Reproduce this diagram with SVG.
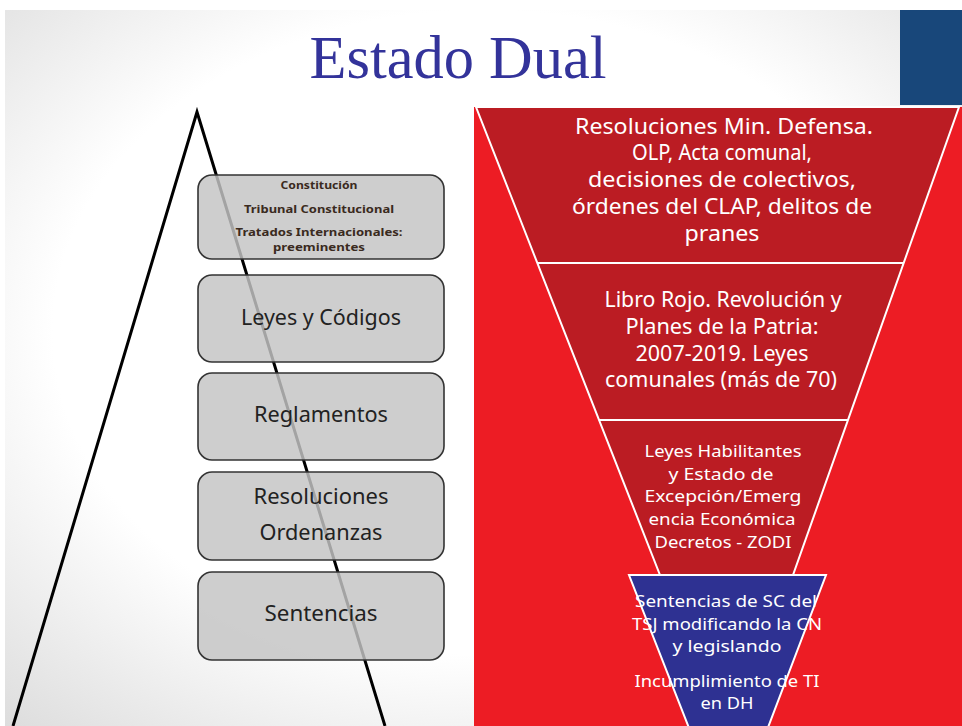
<svg xmlns="http://www.w3.org/2000/svg" width="962" height="726" viewBox="0 0 962 726">
<style>
.box{fill:#c4c4c4;fill-opacity:0.83;stroke:#333;stroke-width:1.6}
.bt{font-family:"Noto Sans","Open Sans",sans-serif;font-size:21px;fill:#222;text-anchor:middle}
.bs{font-family:"Noto Sans","Open Sans",sans-serif;font-size:11px;font-weight:bold;fill:#3a2a20;text-anchor:middle}
.wt{font-family:"Noto Sans","Open Sans",sans-serif;font-size:21px;fill:#fff;text-anchor:middle}
.ws{font-family:"Noto Sans","Open Sans",sans-serif;font-size:17px;fill:#fff;text-anchor:middle}
.sep{stroke:#fff;stroke-width:2;fill:none}
</style>
<defs>
<radialGradient id="bg" cx="0.5" cy="0.45" r="0.75">
<stop offset="0.6" stop-color="#ffffff"/>
<stop offset="1" stop-color="#dcdcdc"/>
</radialGradient>
</defs>
<rect width="962" height="726" fill="#fff"/>
<rect x="5" y="10" width="957" height="716" fill="url(#bg)"/>
<rect id="blue-corner" x="900" y="10" width="62" height="95" fill="#18477a"/>
<text id="title" x="458" y="78" font-family="Liberation Serif,serif" font-size="62" fill="#33339a" text-anchor="middle" textLength="297" lengthAdjust="spacingAndGlyphs">Estado Dual</text>

<g id="pyramid">
<polyline points="13,726 197,112 385,726" fill="none" stroke="#000" stroke-width="3" stroke-linejoin="miter"/>
</g>

<g id="box-constitucion">
<rect class="box" x="198" y="175" width="246" height="84" rx="14"/>
<text class="bs" x="319" y="189" textLength="77" lengthAdjust="spacingAndGlyphs">Constitución</text>
<text class="bs" x="319" y="213" textLength="150" lengthAdjust="spacingAndGlyphs">Tribunal Constitucional</text>
<text class="bs" x="319" y="236" textLength="167" lengthAdjust="spacingAndGlyphs">Tratados Internacionales:</text>
<text class="bs" x="319" y="251" textLength="92" lengthAdjust="spacingAndGlyphs">preeminentes</text>
</g>
<g id="box-leyes">
<rect class="box" x="198" y="275" width="246" height="87" rx="14"/>
<text class="bt" x="321" y="325" textLength="160" lengthAdjust="spacingAndGlyphs">Leyes y Códigos</text>
</g>
<g id="box-reglamentos">
<rect class="box" x="198" y="373" width="246" height="87" rx="14"/>
<text class="bt" x="321" y="422" textLength="134" lengthAdjust="spacingAndGlyphs">Reglamentos</text>
</g>
<g id="box-resoluciones">
<rect class="box" x="198" y="472" width="246" height="88" rx="14"/>
<text class="bt" x="321" y="504" textLength="135" lengthAdjust="spacingAndGlyphs">Resoluciones</text>
<text class="bt" x="321" y="540" textLength="123" lengthAdjust="spacingAndGlyphs">Ordenanzas</text>
</g>
<g id="box-sentencias">
<rect class="box" x="198" y="572" width="246" height="88" rx="14"/>
<text class="bt" x="321" y="621" textLength="113" lengthAdjust="spacingAndGlyphs">Sentencias</text>
</g>

<rect id="red-bg" x="474" y="107" width="488" height="619" fill="#ed1c24"/>

<g id="funnel">
<polygon points="476,107 959,107 793,575 660,575" fill="#bb1c23" stroke="#fff" stroke-width="2"/>
</g>
<g id="connectors">
<line class="sep" x1="537" y1="263" x2="904" y2="263"/>
<line class="sep" x1="599" y1="420" x2="848" y2="420"/>
</g>

<g id="sec-1">
<text class="wt" x="724" y="134" textLength="298" lengthAdjust="spacingAndGlyphs">Resoluciones Min. Defensa.</text>
<text class="wt" x="722" y="160" textLength="180" lengthAdjust="spacingAndGlyphs">OLP, Acta comunal,</text>
<text class="wt" x="722" y="187" textLength="268" lengthAdjust="spacingAndGlyphs">decisiones de colectivos,</text>
<text class="wt" x="722" y="214" textLength="300" lengthAdjust="spacingAndGlyphs">órdenes del CLAP,  delitos de</text>
<text class="wt" x="722" y="241" textLength="75" lengthAdjust="spacingAndGlyphs">pranes</text>
</g>
<g id="sec-2">
<text class="wt" x="723" y="307" textLength="237" lengthAdjust="spacingAndGlyphs">Libro Rojo. Revolución y</text>
<text class="wt" x="722" y="334" textLength="193" lengthAdjust="spacingAndGlyphs">Planes de la Patria:</text>
<text class="wt" x="722" y="361" textLength="173" lengthAdjust="spacingAndGlyphs">2007-2019. Leyes</text>
<text class="wt" x="721" y="387" textLength="232" lengthAdjust="spacingAndGlyphs">comunales (más de 70)</text>
</g>
<g id="sec-3">
<text class="ws" x="723" y="457" textLength="157" lengthAdjust="spacingAndGlyphs">Leyes Habilitantes</text>
<text class="ws" x="721" y="480" textLength="105" lengthAdjust="spacingAndGlyphs">y Estado de</text>
<text class="ws" x="723" y="502" textLength="157" lengthAdjust="spacingAndGlyphs">Excepción/Emerg</text>
<text class="ws" x="722" y="525" textLength="147" lengthAdjust="spacingAndGlyphs">encia Económica</text>
<text class="ws" x="723" y="548" textLength="137" lengthAdjust="spacingAndGlyphs">Decretos - ZODI</text>
</g>
<g id="sec-4">
<polygon points="629,575 826,575 729,830" fill="#2e3192" stroke="#fff" stroke-width="2"/>
<text class="ws" x="726" y="607" textLength="182" lengthAdjust="spacingAndGlyphs">Sentencias de SC del</text>
<text class="ws" x="727" y="630" textLength="190" lengthAdjust="spacingAndGlyphs">TSJ modificando la CN</text>
<text class="ws" x="727" y="652" textLength="109" lengthAdjust="spacingAndGlyphs">y legislando</text>
<text class="ws" x="727" y="687" font-size="16" textLength="185" lengthAdjust="spacingAndGlyphs">Incumplimiento de TI</text>
<text class="ws" x="727" y="709" font-size="16" textLength="53" lengthAdjust="spacingAndGlyphs">en DH</text>
</g>
</svg>
